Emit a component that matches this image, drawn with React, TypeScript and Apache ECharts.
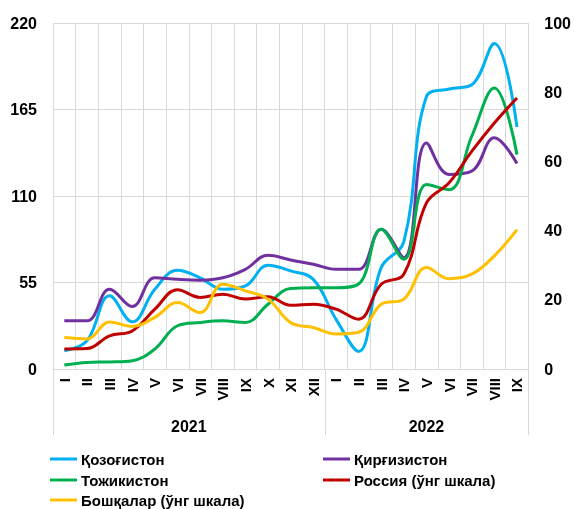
import React, { useEffect, useRef } from "react";
import * as echarts from "echarts";

const months = ["I","II","III","IV","V","VI","VII","VIII","IX","X","XI","XII","I","II","III","IV","V","VI","VII","VIII","IX"];
const years = ["2021", "2022"];
const yearSpans = [12, 9];

const kazakhstan = [11.6, 18, 46.5, 30, 50.7, 62.8, 58, 50.7, 52.8, 66, 62.4, 57, 31.7, 11.2, 64.5, 81, 173.3, 178, 180.7, 207, 153.9];
const kyrgyzstan = [30.6, 30.6, 50.7, 39.7, 58, 57, 56.5, 58, 63.4, 72.3, 69.3, 66.6, 63.4, 63.4, 88.8, 70.8, 143.7, 123.7, 125.8, 147, 130.6];
const tajikistan = [2.5, 4.2, 4.5, 5.3, 12.7, 27.5, 29.6, 30.6, 29.6, 41.2, 51.2, 51.6, 51.6, 54, 88.8, 69.8, 117.3, 114, 148, 178.6, 136.3];
const russia = [5.8, 5.9, 9.6, 11, 17.3, 22.9, 20.7, 21.6, 20.2, 20.9, 18.4, 18.7, 17.3, 14.4, 24.5, 27.4, 48, 53.8, 62.9, 71.1, 78.3];
const others = [9.1, 8.7, 13.6, 12.3, 14.9, 19.2, 16.3, 24.5, 22.6, 20.2, 13.4, 12, 10.1, 10.6, 18.7, 20.2, 29.3, 26.1, 27.4, 32.7, 40.3];

const names = ["Қозоғистон", "Қирғизистон", "Тожикистон", "Россия (ўнг шкала)", "Бошқалар (ўнг шкала)"];
const colors = ["#00B0F0", "#7030A0", "#00B050", "#C00000", "#FFC000"];

const FONT = "Arial, 'Liberation Sans', sans-serif";

export default function App() {
  const ref = useRef<HTMLDivElement>(null);
  useEffect(() => {
    const chart = echarts.init(ref.current!, null, { renderer: "svg" });
    const mk = (i: number, data: number[], yAxisIndex: number) => ({
      name: names[i],
      type: "line",
      data,
      yAxisIndex,
      smooth: 0.4,
      showSymbol: false,
      symbol: "none",
      lineStyle: { width: 3, color: colors[i] },
      itemStyle: { color: colors[i] },
    });
    const legendAt = (name: string, left: number, rowY: number) => ({
      orient: "horizontal",
      left,
      top: rowY - 8,
      padding: 0,
      itemWidth: 27,
      itemHeight: 3,
      icon: "rect",
      data: [name],
      textStyle: { fontFamily: FONT, fontWeight: "bold", fontSize: 15, color: "#000", lineHeight: 16, padding: [0, 0, 0, -1] },
    });
    chart.setOption({
      animation: false,
      textStyle: { fontFamily: FONT },
      grid: { left: 53, right: 45, top: 23, bottom: 140 },
      legend: [
        legendAt(names[0], 50, 459),
        legendAt(names[1], 323, 459),
        legendAt(names[2], 50, 480),
        legendAt(names[3], 323, 480),
        legendAt(names[4], 50, 500),
      ],
      xAxis: {
        type: "category",
        data: months,
        boundaryGap: true,
        axisLine: { lineStyle: { color: "#d9d9d9", width: 1 } },
        axisTick: { show: false },
        splitLine: { show: true, interval: 0, lineStyle: { color: "#d9d9d9", width: 1 } },
        axisLabel: { interval: 0, rotate: 90, margin: 9, fontFamily: FONT, fontWeight: "bold", fontSize: 15, color: "#000" },
      },
      yAxis: [
        {
          type: "value",
          min: 0,
          max: 220,
          interval: 55,
          axisLine: { show: false },
          axisTick: { show: false },
          splitLine: { lineStyle: { color: "#d9d9d9", width: 1 } },
          axisLabel: { margin: 16, fontFamily: FONT, fontWeight: "bold", fontSize: 16, color: "#000" },
        },
        {
          type: "value",
          min: 0,
          max: 100,
          interval: 20,
          axisLine: { show: false },
          axisTick: { show: false },
          splitLine: { show: false },
          axisLabel: { margin: 16, fontFamily: FONT, fontWeight: "bold", fontSize: 16, color: "#000" },
        },
      ],
      series: [
        mk(0, kazakhstan, 0),
        mk(1, kyrgyzstan, 0),
        mk(2, tajikistan, 0),
        mk(3, russia, 1),
        mk(4, others, 1),
      ],
    });

    const y0 = chart.convertToPixel({ yAxisIndex: 0 }, 0) as number;
    const xAt = (i: number) => chart.convertToPixel({ xAxisIndex: 0 }, i) as number;
    const step = xAt(1) - xAt(0);
    const graphic: any[] = [];
    let start = 0;
    const bounds = [xAt(0) - step / 2];
    years.forEach((yr, k) => {
      const end = start + yearSpans[k] - 1;
      const cx = (xAt(start) + xAt(end)) / 2;
      graphic.push({
        type: "text",
        x: cx,
        y: y0 + 57,
        style: { text: yr, fill: "#000", font: `bold 16px ${FONT}`, textAlign: "center", textVerticalAlign: "middle" },
      });
      bounds.push(xAt(end) + step / 2);
      start = end + 1;
    });
    bounds.forEach((bx) => {
      graphic.push({
        type: "line",
        shape: { x1: Math.round(bx) + 0.5, y1: y0, x2: Math.round(bx) + 0.5, y2: y0 + 66 },
        style: { stroke: "#d9d9d9", lineWidth: 1 },
      });
    });
    chart.setOption({ graphic });
    return () => chart.dispose();
  }, []);
  return <div ref={ref} style={{ position: "fixed", left: 0, top: 0, width: 574, height: 509 }} />;
}
